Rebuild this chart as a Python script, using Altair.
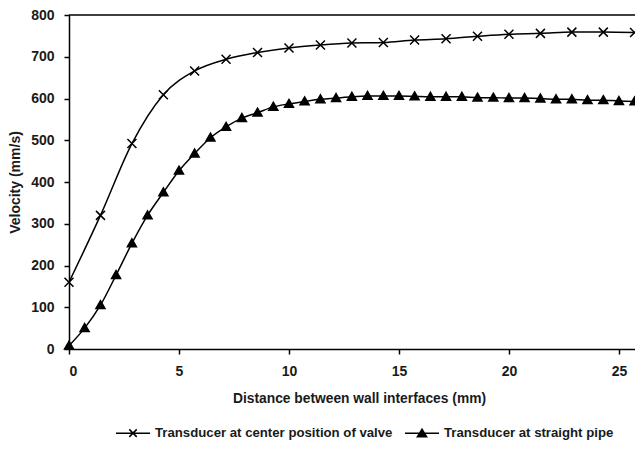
import altair as alt
import pandas as pd

series_names = ["Transducer at center position of valve", "Transducer at straight pipe"]

valve_x = [0, 1.43, 2.86, 4.29, 5.71, 7.14, 8.57, 10.0, 11.43, 12.86, 14.29, 15.71,
           17.14, 18.57, 20.0, 21.43, 22.86, 24.29, 25.71]
valve_v = [160, 320, 492, 609, 666, 694, 710, 721, 728, 733, 734, 740,
           743, 749, 754, 756, 759, 759, 758]

pipe_x = [0, 0.71, 1.43, 2.14, 2.86, 3.57, 4.29, 5.0, 5.71, 6.43, 7.14, 7.86, 8.57,
          9.29, 10.0, 10.71, 11.43, 12.14, 12.86, 13.57, 14.29, 15.0, 15.71, 16.43,
          17.14, 17.86, 18.57, 19.29, 20.0, 20.71, 21.43, 22.14, 22.86, 23.57, 24.29,
          25.0, 25.71]
pipe_v = [8, 50, 105, 177, 253, 320, 375, 427, 468, 506, 532, 553, 566,
          580, 587, 593, 598, 601, 604, 606, 606, 606, 605, 604,
          604, 604, 602, 602, 601, 601, 600, 598, 598, 596, 596,
          594, 593]

x_ticks = [0, 5, 10, 15, 20, 25]
y_ticks = [0, 100, 200, 300, 400, 500, 600, 700, 800]

rows = []
for x, v in zip(valve_x, valve_v):
    rows.append({"x": x, "v": v, "series": series_names[0]})
for x, v in zip(pipe_x, pipe_v):
    rows.append({"x": x, "v": v, "series": series_names[1]})
df = pd.DataFrame(rows)

FONT = "Liberation Sans"
W, H = 566, 334

xs = alt.Scale(domain=[0, 25.73], nice=False, zero=False)
ys = alt.Scale(domain=[0, 800], nice=False)

x_axis = alt.Axis(values=x_ticks, title="Distance between wall interfaces (mm)",
                  grid=False, domainColor="black", domainWidth=1.5, tickColor="black",
                  tickWidth=1.5, tickSize=5, labelFont=FONT, labelFontSize=14,
                  labelFontWeight="bold", labelColor="#1a1a1a", labelPadding=10,
                  titleFont=FONT, titleFontSize=13.8, titleFontWeight="bold",
                  titleColor="#1a1a1a", titlePadding=13, titleX=290)
y_axis = alt.Axis(values=y_ticks, title="Velocity (mm/s)",
                  grid=False, domainColor="black", domainWidth=1.5, tickColor="black",
                  tickWidth=1.5, tickSize=5, labelFont=FONT, labelFontSize=14,
                  labelFontWeight="bold", labelColor="#1a1a1a", labelPadding=10,
                  titleFont=FONT, titleFontSize=14, titleFontWeight="bold",
                  titleColor="#1a1a1a", titlePadding=8)

base = alt.Chart(df)

lines = base.mark_line(color="black", strokeWidth=1.5, interpolate="cardinal",
                       tension=0).encode(
    x=alt.X("x:Q", scale=xs, axis=x_axis),
    y=alt.Y("v:Q", scale=ys, axis=y_axis),
    detail="series:N",
)

marker_paths = ["M-1,-1L1,1M-1,1L1,-1", "M0,-1L1,0.75L-1,0.75Z"]
points = base.mark_point(filled=True, fill="black", stroke="black", strokeWidth=1.5,
                         opacity=1, size=81).encode(
    x=alt.X("x:Q", scale=xs),
    y=alt.Y("v:Q", scale=ys),
    shape=alt.Shape("series:N", scale=alt.Scale(domain=series_names, range=marker_paths),
                    legend=None),
)

# legend glyphs: line through marker; the triangle is drawn solid with stroked rows
legend_paths = [
    "M-1,0H1M-0.22,-0.22L0.22,0.22M-0.22,0.22L0.22,-0.22",
    "M-1,0H1M0,-0.24L0.27,0.2L-0.27,0.2Z"
    "M-0.049,-0.16H0.049M-0.098,-0.08H0.098M-0.147,0H0.147"
    "M-0.196,0.08H0.196M-0.245,0.16H0.245",
]
legend_layer = base.transform_filter("datum.x < -100").mark_point(
    filled=False, color="black", strokeWidth=1.5, opacity=1, size=1156
).encode(
    x=alt.X("x:Q", scale=xs),
    y=alt.Y("v:Q", scale=ys),
    shape=alt.Shape("series:N", scale=alt.Scale(domain=series_names, range=legend_paths),
                    legend=alt.Legend(title=None, orient="none", legendX=46, legendY=400,
                                      direction="horizontal", symbolSize=1156,
                                      labelFont=FONT, labelFontSize=13.2,
                                      labelFontWeight="bold", labelColor="#1a1a1a",
                                      labelOffset=4, columnPadding=9, padding=0,
                                      symbolStrokeWidth=1.5,
                                      symbolStrokeColor="black", symbolOpacity=1,
                                      labelLimit=400)),
)

top_rule = alt.Chart(pd.DataFrame({"a": [0]})).mark_rule(color="black", strokeWidth=1.5).encode(
    x=alt.value(0), x2=alt.value(W), y=alt.value(0)
)

chart = alt.layer(lines, points, legend_layer, top_rule).resolve_scale(
    shape="independent"
).properties(
    width=W, height=H, autosize="none",
    padding={"left": 61, "top": 7, "right": 0, "bottom": 93},
    background="white",
).configure_view(stroke=None)

chart.save("out.html", embed_options={"renderer": "svg", "actions": False})
